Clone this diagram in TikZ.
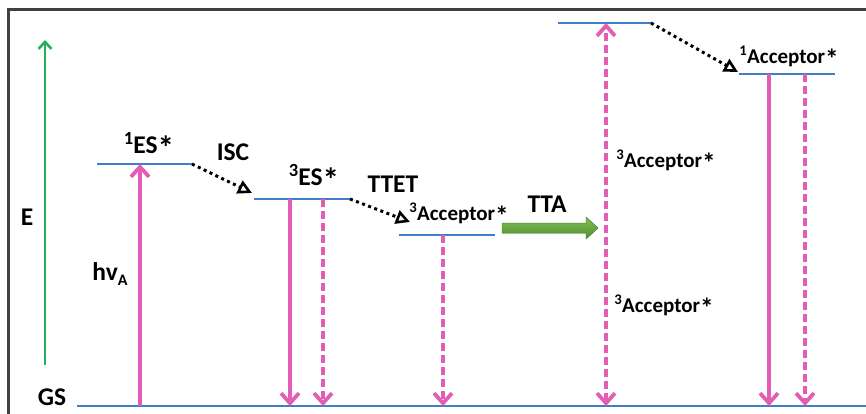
\documentclass[tikz,border=0pt]{standalone}
\usepackage{fontspec}
\setmainfont{Carlito}
\usetikzlibrary{arrows.meta}
\definecolor{pinkc}{HTML}{E35DB4}
\definecolor{bluec}{HTML}{3F7FC8}
\definecolor{greenc}{HTML}{22B35A}
\definecolor{ttac}{HTML}{6DB33F}
\definecolor{ttadark}{HTML}{4F8F2A}
\definecolor{framec}{HTML}{404040}
\newcommand{\bigsup}[1]{\raisebox{0.33em}{\fontsize{18.5}{18.5}\selectfont #1}}
\newcommand{\bigstar}{\raisebox{-0.24em}{\scalebox{1.3}{*}}}
\begin{document}
\begin{tikzpicture}[x=1pt,y=-1pt,
  levelline/.style={draw=bluec, line width=2.6pt},
  trans/.style={draw=pinkc, line width=3.8pt, -{Straight Barb[length=10pt,width=18pt]}},
  dtrans/.style={trans, dash pattern=on 8pt off 4pt},
  dotarrow/.style={draw=black, line width=3pt, dash pattern=on 3pt off 3.5pt, -{Triangle[open,length=14pt,width=14pt,line width=2.6pt]}},
  lbl/.style={font=\bfseries\fontsize{25.5}{28}\selectfont, anchor=base, inner sep=0pt},
  acc/.style={font=\bfseries\fontsize{21}{23}\selectfont, anchor=base, inner sep=0pt}]
\useasboundingbox (0,0) rectangle (866,413);
\clip (0,0) rectangle (866,413);
\fill[white] (0,0) rectangle (866,413);
% frame
\draw[framec, line width=3pt] (8,9) rectangle (885,430);

% level coordinates
\coordinate (gsL) at (77,406);   \coordinate (gsR) at (870,406);
\coordinate (es1L) at (97,164);  \coordinate (es1R) at (192,164);
\coordinate (es3L) at (254,199); \coordinate (es3R) at (350,199);
\coordinate (a3L) at (399,235);  \coordinate (a3R) at (495,235);
\coordinate (topL) at (558,23);  \coordinate (topR) at (651,23);
\coordinate (a1L) at (739,74);   \coordinate (a1R) at (835,74);

% energy levels
\draw[levelline] (gsL) -- (gsR);
\draw[levelline] (es1L) -- (es1R);
\draw[levelline] (es3L) -- (es3R);
\draw[levelline] (a3L) -- (a3R);
\draw[levelline] (topL) -- (topR);
\draw[levelline] (a1L) -- (a1R);

% energy axis
\coordinate (eB) at (45,365); \coordinate (eT) at (45,40);
\draw[greenc, line width=2.6pt, -{Straight Barb[length=7pt,width=13pt]}] (eB) -- (eT);

% transition coordinates
\coordinate (hvB) at (140,406);  \coordinate (hvT) at (140,164);
\coordinate (f1T) at (290,199);  \coordinate (f1B) at (290,406);
\coordinate (f2T) at (323,199);  \coordinate (f2B) at (323,406);
\coordinate (f3T) at (443,235);  \coordinate (f3B) at (443,406);
\coordinate (upB) at (606,406);  \coordinate (upT) at (606,23);
\coordinate (f4T) at (769,74);   \coordinate (f4B) at (769,406);
\coordinate (f5T) at (805,74);   \coordinate (f5B) at (805,406);

\draw[trans] (hvB) -- (hvT);
\draw[trans] (f1T) -- (f1B);
\draw[dtrans] (f2T) -- (f2B);
\draw[dtrans] (f3T) -- (f3B);
\draw[dtrans, {Straight Barb[length=10pt,width=18pt]}-{Straight Barb[length=10pt,width=18pt]}] (upB) -- (upT);
\draw[trans] (f4T) -- (f4B);
\draw[dtrans] (f5T) -- (f5B);

% dotted transfer arrows
\coordinate (iscE) at (252,193);
\coordinate (ttetE) at (410,222);
\coordinate (topE) at (738,72);
\draw[dotarrow] (es1R) -- (iscE);
\draw[dotarrow] (es3R) -- (ttetE);
\draw[dotarrow] (topR) -- (topE);

% TTA block arrow
\coordinate (ttaS) at (502,228);
\fill[top color=ttac!85!white, bottom color=ttadark, draw=ttadark, line width=0.5pt]
  (ttaS) ++(0,-5) -- ++(84,0) -- ++(0,-6) -- ++(12,11) -- ++(-12,11) -- ++(0,-6) -- ++(-84,0) -- cycle;

% labels
\node[lbl] (lE) at (27,225) {E};
\node[lbl] (lGS) at (52,405) {GS};
\node[lbl] (lhv) at (110,280) {hv\raisebox{-0.22em}{\fontsize{16}{16}\selectfont A}};
\node[lbl] (lES1) at (149,153) {\bigsup{1}ES\bigstar};
\node[lbl] (lISC) at (233,160) {ISC};
\node[lbl] (lES3) at (314,185) {\bigsup{3}ES\bigstar};
\node[lbl] (lTTET) at (393,192) {TTET};
\node[acc] (lA3) at (459,220) {\textsuperscript{3}Acceptor\bigstar};
\node[lbl] (lTTA) at (547,212) {TTA};
\node[acc] (lA1) at (789,63) {\textsuperscript{1}Acceptor\bigstar};
\node[acc] (lA3u) at (666,167) {\textsuperscript{3}Acceptor\bigstar};
\node[acc] (lA3d) at (664,312) {\textsuperscript{3}Acceptor\bigstar};
\end{tikzpicture}
\end{document}
